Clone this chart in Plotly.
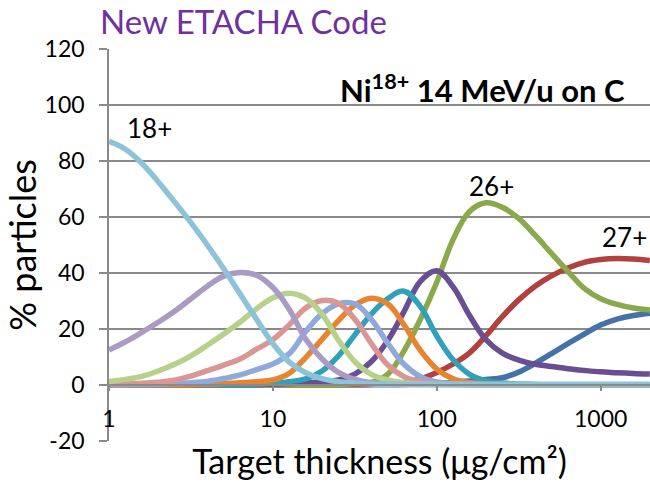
import math
import plotly.graph_objects as go

# Target thickness (µg/cm²), log-spaced sample points
thickness = [1, 1.259, 1.585, 1.995, 2.512, 3.162, 3.981, 5.012, 6.31, 7.943,
             10, 12.59, 15.85, 19.95, 25.12, 31.62, 39.81, 50.12, 63.1, 79.43,
             100, 125.9, 158.5, 199.5, 251.2, 316.2, 398.1, 501.2, 631, 794.3,
             1000, 1259, 1585, 1995]

charge_states = ["18+", "19+", "20+", "21+", "22+", "23+", "24+", "25+", "26+", "27+", "28+"]

q18 = [87, 84.2, 79.2, 72.6, 65.4, 58, 50, 41.5, 32.5, 23.5,
       14.8, 8.2, 4.4, 2.3, 1.2, 0.7, 0.4, 0.3, 0.3, 0.3,
       0.3, 0.3, 0.3, 0.3, 0.3, 0.3, 0.3, 0.3, 0.3, 0.3,
       0.3, 0.3, 0.3, 0.3]
q19 = [12.5, 15.4, 18.8, 22.4, 26.3, 30.8, 35.3, 38.9, 40.2, 39.2,
       34.8, 27, 16.4, 9.3, 4.5, 2, 0.8, 0.3, 0.1, 0.1,
       0.1, 0.1, 0.1, 0.1, 0.1, 0.1, 0.1, 0.1, 0.1, 0.1,
       0.1, 0.1, 0.1, 0.1]
q20 = [1.2, 2, 3.1, 5, 7.4, 10.4, 14.2, 18.2, 22.5, 27.2,
       31.2, 32.8, 31, 25.3, 16, 8.3, 3.8, 1.8, 0.8, 0.4,
       0.2, 0.1, 0.1, 0.1, 0.1, 0.1, 0.1, 0.1, 0.1, 0.1,
       0.1, 0.1, 0.1, 0.1]
q21 = [0.3, 0.4, 0.6, 1, 1.7, 3.2, 5.1, 7.1, 9.3, 12.8,
       16.2, 21.5, 27.5, 30.2, 29.2, 23.5, 14.9, 7.2, 3, 1.3,
       0.6, 0.3, 0.1, 0.1, 0.1, 0.1, 0.1, 0.1, 0.1, 0.1,
       0.1, 0.1, 0.1, 0.1]
q22 = [0.1, 0.1, 0.2, 0.3, 0.5, 0.8, 1.3, 2.3, 3.6, 5.5,
       7.5, 11.2, 19.1, 25.5, 29, 29, 23.5, 15, 7.4, 3,
       1.1, 0.5, 0.2, 0.1, 0.1, 0.1, 0.1, 0.1, 0.1, 0.1,
       0.1, 0.1, 0.1, 0.1]
q23 = [0.1, 0.1, 0.1, 0.1, 0.1, 0.1, 0.3, 0.5, 0.8, 1.2,
       1.8, 4.2, 9.8, 16.3, 23, 28.5, 31, 29, 21.5, 12.4,
       5.7, 2.2, 0.9, 0.4, 0.2, 0.1, 0.1, 0.1, 0.1, 0.1,
       0.1, 0.1, 0.1, 0.1]
q24 = [0.1, 0.1, 0.1, 0.1, 0.1, 0.1, 0.1, 0.1, 0.2, 0.3,
       0.6, 1.2, 2.2, 5, 10.4, 17.9, 25.3, 30.8, 33.5, 28,
       17.5, 9, 3.8, 1.5, 0.7, 0.4, 0.2, 0.1, 0.1, 0.1,
       0.1, 0.1, 0.1, 0.1]
q25 = [0.1, 0.1, 0.1, 0.1, 0.1, 0.1, 0.1, 0.1, 0.1, 0.1,
       0.3, 0.5, 0.8, 1.2, 1.8, 3.9, 8.3, 15.8, 26.2, 37,
       40.8, 35, 24.8, 16.2, 11.4, 8.9, 7.4, 6.6, 5.8, 5.2,
       4.7, 4.4, 4.1, 3.9]
q26 = [0.1, 0.1, 0.1, 0.1, 0.1, 0.1, 0.1, 0.1, 0.1, 0.1,
       0.1, 0.1, 0.1, 0.1, 0.1, 0.4, 0.9, 3.8, 12.2, 23.5,
       36.7, 52, 62, 65.1, 63.5, 59.5, 53.5, 47, 40.6, 34.5,
       30.8, 28.8, 27.5, 26.8]
q27 = [0.1, 0.1, 0.1, 0.1, 0.1, 0.1, 0.1, 0.1, 0.1, 0.1,
       0.1, 0.1, 0.1, 0.1, 0.1, 0.1, 0.2, 0.4, 0.9, 2.2,
       4.5, 7.5, 11.5, 17.6, 24.4, 30.4, 35.3, 39, 41.8, 43.8,
       44.8, 45.2, 45, 44.5]
q28 = [0.1, 0.1, 0.1, 0.1, 0.1, 0.1, 0.1, 0.1, 0.1, 0.1,
       0.1, 0.1, 0.1, 0.1, 0.1, 0.1, 0.1, 0.1, 0.2, 0.4,
       0.6, 1, 1.4, 2, 2.6, 4.6, 7.7, 11.2, 14.8, 18.2,
       21.4, 23.5, 24.8, 25.6]

fractions = [q18, q19, q20, q21, q22, q23, q24, q25, q26, q27, q28]

x_tick_vals = [1, 10, 100, 1000]
x_tick_text = ["1", "10", "100", "1000"]
y_tick_vals = [-20, 0, 20, 40, 60, 80, 100, 120]
y_tick_text = ["-20", "0", "20", "40", "60", "80", "100", "120"]

colors = ["#8DC3D8", "#A99BC4", "#B7D08B", "#D99694", "#8EA9DB", "#E8842F",
          "#31A0B8", "#6A4E93", "#8BA94A", "#B0413E", "#4472A8"]

GRAY = "#8A8A8A"
FONT = "Lato"

fig = go.Figure()
for name, vals, col in reversed(list(zip(charge_states, fractions, colors))):
    fig.add_trace(go.Scatter(x=thickness, y=vals, name=name, mode="lines",
                             line=dict(color=col, width=5.5, shape="spline", smoothing=1.1),
                             hoverinfo="skip"))

label_pos = {"18+": (0.25, 91.8), "26+": (2.335, 71), "27+": (3.146, 52.9)}
for txt, (lx, ly) in label_pos.items():
    fig.add_annotation(x=lx, y=ly, xref="x", yref="y", text=txt, showarrow=False,
                       font=dict(family=FONT, size=26, color="black"),
                       xanchor="center", yanchor="middle")

fig.add_annotation(x=(627 - 109) / 541, y=(441 - 88) / 392, xref="paper", yref="paper",
                   text="<b>Ni<sup>18+</sup> 14 MeV/u on C</b>", showarrow=False,
                   font=dict(family=FONT, size=31, color="black"),
                   xanchor="right", yanchor="middle")

fig.update_layout(
    width=650, height=485,
    margin=dict(l=109, r=0, t=49, b=44, pad=0),
    paper_bgcolor="white", plot_bgcolor="white",
    showlegend=False,
    font=dict(family=FONT, color="black"),
    title=dict(text="New ETACHA Code", font=dict(family=FONT, size=33, color="#7030A0"),
               x=100 / 650, xanchor="left", xref="container",
               y=1 - 22 / 485, yref="container", yanchor="middle"),
    xaxis=dict(type="log", range=[0, math.log10(2000)],
               tickmode="array", tickvals=x_tick_vals, ticktext=x_tick_text,
               ticks="outside", ticklen=5, tickwidth=1.5, tickcolor=GRAY,
               showline=True, linecolor=GRAY, linewidth=1.5,
               showgrid=False, zeroline=False,
               anchor="free", position=1 / 7,
               tickfont=dict(family=FONT, size=23, color="black"),
               ticklabelstandoff=9,
               title=dict(text="Target thickness (μg/cm²)",
                          font=dict(family=FONT, size=34, color="black"), standoff=18)),
    yaxis=dict(range=[-20, 120], tickmode="array", tickvals=y_tick_vals, ticktext=y_tick_text,
               showgrid=True, gridcolor=GRAY, gridwidth=1.6,
               ticks="outside", ticklen=8, tickwidth=1.6, tickcolor=GRAY,
               showline=True, linecolor=GRAY, linewidth=1.6, zeroline=False,
               tickfont=dict(family=FONT, size=23, color="black"),
               ticklabelstandoff=10,
               title=dict(text="% particles", font=dict(family=FONT, size=36, color="black"),
                          standoff=5)),
)

fig.write_html("out.html")
